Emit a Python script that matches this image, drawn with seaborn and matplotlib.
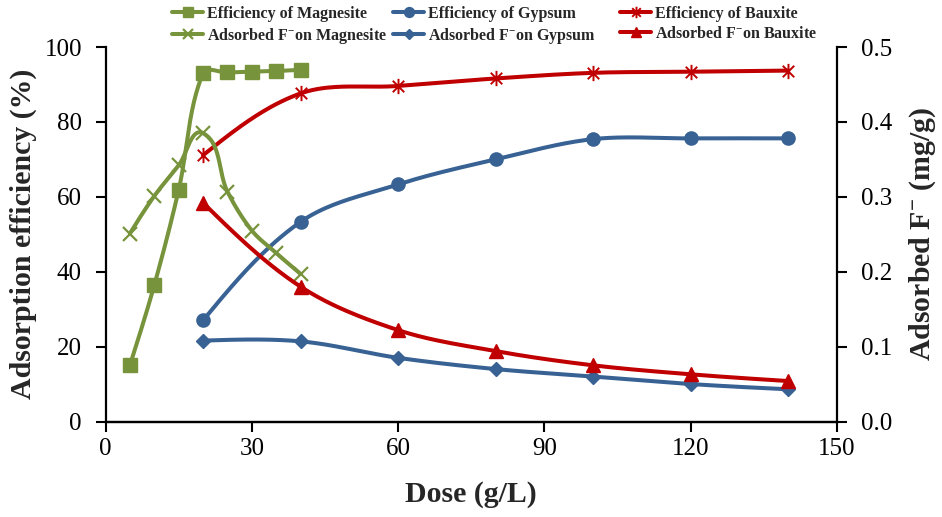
import numpy as np
import matplotlib
matplotlib.use("Agg")
import matplotlib.pyplot as plt
from matplotlib.path import Path
from matplotlib.lines import Line2D
import seaborn as sns

# ---- data ----
dose_mag = [5, 10, 15, 20, 25, 30, 35, 40]
eff_mag = [15.0, 36.4, 61.8, 93.0, 93.2, 93.4, 93.6, 93.9]
ads_mag = [0.251, 0.301, 0.342, 0.385, 0.307, 0.255, 0.225, 0.197]

dose_gb = [20, 40, 60, 80, 100, 120, 140]
eff_gyp = [27.0, 53.3, 63.3, 70.0, 75.4, 75.6, 75.6]
ads_gyp = [0.108, 0.107, 0.085, 0.070, 0.060, 0.050, 0.043]
eff_bau = [71.1, 87.6, 89.6, 91.6, 93.1, 93.4, 93.7]
ads_bau = [0.292, 0.180, 0.122, 0.094, 0.075, 0.063, 0.054]

x_ticks = [0, 30, 60, 90, 120, 150]
left_ticks = [0, 20, 40, 60, 80, 100]
right_ticks = [0.0, 0.1, 0.2, 0.3, 0.4, 0.5]

GREEN = "#77933C"
BLUE = "#386294"
RED = "#C00000"

sns.set_theme(style="white")
plt.rcParams["font.family"] = ["Liberation Serif", "DejaVu Serif"]
plt.rcParams["mathtext.fontset"] = "custom"
plt.rcParams["mathtext.rm"] = "Liberation Serif:bold"
plt.rcParams["mathtext.it"] = "Liberation Serif:bold"
plt.rcParams["mathtext.bf"] = "Liberation Serif:bold"

FIG_W, FIG_H = 942, 517
AX_L, AX_R, AX_T, AX_B = 105.5, 837.0, 47.0, 421.5


def smooth(xs, ys, xspan, yspan, n=40):
    """Bezier smoothing through each point; tangents are scaled by the
    neighbouring chord lengths (measured on screen) to limit overshoot."""
    kx = (AX_R - AX_L) / xspan
    ky = (AX_B - AX_T) / yspan
    p = np.column_stack([np.asarray(xs, float) * kx, np.asarray(ys, float) * ky])
    out = [p[0]]
    t = np.linspace(0, 1, n)[1:, None]
    m = len(p)
    for i in range(m - 1):
        a, b = p[i], p[i + 1]
        prev = p[i - 1] if i > 0 else a
        nxt = p[i + 2] if i + 2 < m else b
        L = np.linalg.norm(b - a)
        ta = b - prev
        tb = nxt - a
        na, nb = np.linalg.norm(ta), np.linalg.norm(tb)
        c1 = a + (ta / na) * L / 3.0 if na > 0 else a
        c2 = b - (tb / nb) * L / 3.0 if nb > 0 else b
        if i == 0:
            c1 = a + (c2 - a) / 2.0
        if i == m - 2:
            c2 = b + (c1 - b) / 2.0
        seg = ((1 - t) ** 3) * a + 3 * ((1 - t) ** 2) * t * c1 \
            + 3 * (1 - t) * t ** 2 * c2 + t ** 3 * b
        out.extend(seg)
    out = np.array(out)
    return out[:, 0] / kx, out[:, 1] / ky


# asterisk marker: vertical bar plus two diagonals
star_path = Path(
    [(0, -1), (0, 1), (-0.75, -0.75), (0.75, 0.75), (-0.75, 0.75), (0.75, -0.75)],
    [Path.MOVETO, Path.LINETO, Path.MOVETO, Path.LINETO, Path.MOVETO, Path.LINETO],
)

fig = plt.figure(figsize=(FIG_W / 100, FIG_H / 100), dpi=100)
ax = fig.add_axes([AX_L / FIG_W, 1 - AX_B / FIG_H,
                   (AX_R - AX_L) / FIG_W, (AX_B - AX_T) / FIG_H])
ax2 = ax.twinx()

LW = 2.9

series = [
    (ax, dose_mag, eff_mag, GREEN, "s", 10, 1.0, "Efficiency of Magnesite"),
    (ax2, dose_mag, ads_mag, GREEN, "x", 10, 1.6, "Adsorbed F$^{-}$on Magnesite"),
    (ax, dose_gb, eff_gyp, BLUE, "o", 9.5, 1.0, "Efficiency of Gypsum"),
    (ax2, dose_gb, ads_gyp, BLUE, "D", 7, 1.0, "Adsorbed F$^{-}$on Gypsum"),
    (ax, dose_gb, eff_bau, RED, star_path, 11, 1.4, "Efficiency of Bauxite"),
    (ax2, dose_gb, ads_bau, RED, "^", 10, 1.0, "Adsorbed F$^{-}$on Bauxite"),
]

handles = []
for a, xs, ys, col, mk, ms, mew, lab in series:
    yspan = 100.0 if a is ax else 0.5
    sx, sy = smooth(xs, ys, 150.0, yspan)
    sns.lineplot(x=sx, y=sy, ax=a, color=col, linewidth=LW, sort=False,
                 estimator=None, legend=False)
    a.plot(xs, ys, linestyle="none", marker=mk, markersize=ms, color=col,
           markeredgecolor=col, markerfacecolor=col, markeredgewidth=mew)
    handles.append(Line2D([0], [0], color=col, linewidth=LW, marker=mk,
                          markersize=ms * 0.75, markerfacecolor=col,
                          markeredgecolor=col, markeredgewidth=mew, label=lab))

ax.set_xlim(0, 150)
ax.set_ylim(0, 100)
ax2.set_ylim(0, 0.5)
ax.set_xticks(x_ticks)
ax.set_yticks(left_ticks)
ax2.set_yticks(right_ticks)
ax2.set_yticklabels([f"{v:.1f}" for v in right_ticks])

for a in (ax, ax2):
    a.grid(False)
    for side in ("left", "right", "bottom"):
        a.spines[side].set_color("black")
        a.spines[side].set_linewidth(1.6)
    a.spines["top"].set_visible(False)
    a.tick_params(axis="both", which="major", direction="out", length=7,
                  width=1.5, color="black", labelsize=18, labelcolor="black")
ax2.spines["left"].set_visible(False)
ax.spines["right"].set_visible(False)
ax.tick_params(axis="y", left=True, pad=10)
ax.tick_params(axis="x", bottom=True, pad=5)
ax2.tick_params(axis="y", right=True, pad=10)

ax.set_xlabel("Dose (g/L)", fontsize=21.5, fontweight="bold", labelpad=15)
ax.set_ylabel("Adsorption efficiency (%)", fontsize=21.5, fontweight="bold", labelpad=5)
ax2.set_ylabel("Adsorbed F$^{-}$ (mg/g)", fontsize=21.5, fontweight="bold", labelpad=11)

# legend in three columns, one per material
col_x = [172, 393, 620]
for k, x0 in enumerate(col_x):
    leg = fig.legend(handles=handles[2 * k:2 * k + 2], loc="upper left",
                     bbox_to_anchor=(x0 / FIG_W, 1 - 6 / FIG_H),
                     frameon=False, prop={"size": 11.5, "weight": "bold"},
                     handlelength=1.95, labelspacing=0.25, handletextpad=0.25,
                     borderpad=0, borderaxespad=0)

fig.savefig("out.png", dpi=100)
